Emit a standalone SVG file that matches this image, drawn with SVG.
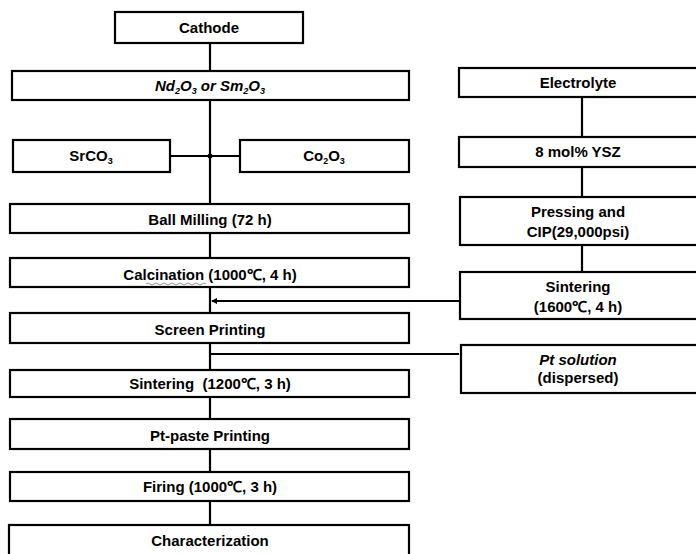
<svg xmlns="http://www.w3.org/2000/svg" width="696" height="554" viewBox="0 0 696 554">
  <style>
    .box { fill: #fff; stroke: #000; stroke-width: 2.2; }
    .lbl { font-family: "Liberation Sans", Arial, sans-serif; font-weight: bold; font-size: 15px; fill: #000; text-anchor: middle; }
    .it { font-style: italic; }
    .sub { font-size: 9px; }
    .wire { stroke: #000; stroke-width: 2.2; fill: none; }
  </style>
  <defs>
    <marker id="head" markerWidth="6" markerHeight="6" refX="5" refY="3" orient="auto" markerUnits="userSpaceOnUse">
      <path d="M0,0 L6,3 L0,6 Z" fill="#000"/>
    </marker>
  </defs>
  <rect width="696" height="554" fill="#fff"/>

  <!-- connectors -->
  <g id="connectors">
    <line class="wire" x1="210" y1="43" x2="210" y2="71"/>
    <line class="wire" x1="210" y1="100" x2="210" y2="204"/>
    <line class="wire" x1="170" y1="156" x2="240" y2="156"/>
    <circle cx="210" cy="156" r="2.5" fill="#000"/>
    <line class="wire" x1="210" y1="233" x2="210" y2="258"/>
    <line class="wire" x1="210" y1="287" x2="210" y2="313"/>
    <line class="wire" x1="210" y1="343" x2="210" y2="370"/>
    <line class="wire" x1="210" y1="397" x2="210" y2="419"/>
    <line class="wire" x1="210" y1="449" x2="210" y2="472"/>
    <line class="wire" x1="210" y1="501" x2="210" y2="525"/>
    <line class="wire" x1="582" y1="97" x2="582" y2="137"/>
    <line class="wire" x1="582" y1="167" x2="582" y2="197"/>
    <line class="wire" x1="582" y1="245" x2="582" y2="272"/>
    <line class="wire" x1="459" y1="301" x2="212" y2="301" marker-end="url(#head)"/>
    <line class="wire" x1="459" y1="354" x2="210" y2="354"/>
  </g>

  <!-- cathode column -->
  <g id="cathode">
    <rect class="box" x="115" y="12" width="188" height="31"/>
    <text class="lbl" x="209" y="33">Cathode</text>
  </g>
  <g id="rare-earth-oxide">
    <rect class="box" x="12" y="71" width="397" height="29"/>
    <text class="lbl it" x="210" y="91">Nd<tspan class="sub" dy="3">2</tspan><tspan dy="-3">O</tspan><tspan class="sub" dy="3">3</tspan><tspan dy="-3"> or Sm</tspan><tspan class="sub" dy="3">2</tspan><tspan dy="-3">O</tspan><tspan class="sub" dy="3">3</tspan></text>
  </g>
  <g id="srco3">
    <rect class="box" x="13" y="140" width="157" height="32"/>
    <text class="lbl" x="91" y="161">SrCO<tspan class="sub" dy="3">3</tspan></text>
  </g>
  <g id="co2o3">
    <rect class="box" x="240" y="140" width="169" height="32"/>
    <text class="lbl" x="324" y="161">Co<tspan class="sub" dy="3">2</tspan><tspan dy="-3">O</tspan><tspan class="sub" dy="3">3</tspan></text>
  </g>
  <g id="ball-milling">
    <rect class="box" x="10" y="204" width="399" height="29"/>
    <text class="lbl" x="210" y="225">Ball Milling (72 h)</text>
  </g>
  <g id="calcination">
    <rect class="box" x="10" y="258" width="399" height="29"/>
    <text class="lbl" x="210" y="280">Calcination (1000℃, 4 h)</text>
    <path d="M146,284 q2,-2 4,0 t4,0 t4,0 t4,0 t4,0 t4,0 t4,0 t4,0 t4,0 t4,0 t4,0 t4,0 t4,0 t4,0 t4,0" stroke="#777" stroke-width="0.8" fill="none"/>
  </g>
  <g id="screen-printing">
    <rect class="box" x="10" y="313" width="399" height="30"/>
    <text class="lbl" x="210" y="335">Screen Printing</text>
  </g>
  <g id="sintering-cathode">
    <rect class="box" x="10" y="370" width="399" height="27"/>
    <text class="lbl" x="210" y="389">Sintering &#160;(1200℃, 3 h)</text>
  </g>
  <g id="pt-paste">
    <rect class="box" x="10" y="419" width="399" height="30"/>
    <text class="lbl" x="210" y="441">Pt-paste Printing</text>
  </g>
  <g id="firing">
    <rect class="box" x="10" y="472" width="399" height="29"/>
    <text class="lbl" x="210" y="492">Firing (1000℃, 3 h)</text>
  </g>
  <g id="characterization">
    <rect class="box" x="9" y="525" width="400" height="40"/>
    <text class="lbl" x="210" y="546">Characterization</text>
  </g>

  <!-- electrolyte column -->
  <g id="electrolyte">
    <rect class="box" x="459" y="68" width="245" height="29"/>
    <text class="lbl" x="578" y="88">Electrolyte</text>
  </g>
  <g id="ysz">
    <rect class="box" x="459" y="137" width="245" height="30"/>
    <text class="lbl" x="578" y="157">8 mol% YSZ</text>
  </g>
  <g id="pressing">
    <rect class="box" x="460" y="197" width="244" height="48"/>
    <text class="lbl" x="578" y="217">Pressing and</text>
    <text class="lbl" x="578" y="237">CIP(29,000psi)</text>
  </g>
  <g id="sintering-electrolyte">
    <rect class="box" x="460" y="272" width="244" height="47"/>
    <text class="lbl" x="578" y="292">Sintering</text>
    <text class="lbl" x="578" y="312">(1600℃, 4 h)</text>
  </g>
  <g id="pt-solution">
    <rect class="box" x="461" y="345" width="243" height="48"/>
    <text class="lbl it" x="578" y="365">Pt solution</text>
    <text class="lbl" x="578" y="383">(dispersed)</text>
  </g>
</svg>
